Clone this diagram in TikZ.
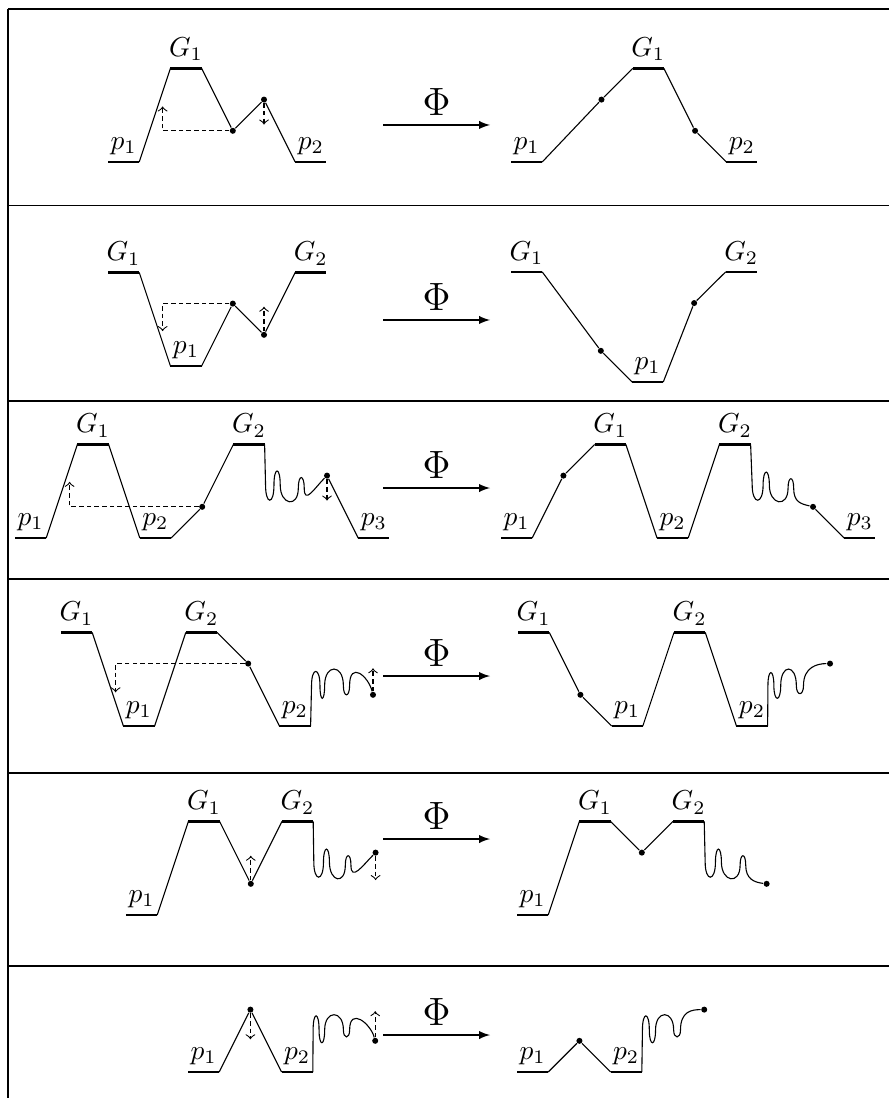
\documentclass[tikz,border=0pt]{standalone}

\begin{document}
\begin{tikzpicture}[x=0.4cm, y=0.4cm,
    plateau/.style={line width=1pt},
    dot/.style={circle, fill, inner sep=0pt, minimum size=2.2pt},
    jump/.style={dash pattern=on 1.7pt off 1.1pt, ->},
    lab/.style={above, inner sep=2.5pt},
    phi/.style={-latex}]

    \useasboundingbox (0,0) rectangle (28.462,-35.192);

    % -------------------------------
    % table rules
    % -------------------------------
    \foreach \y in {0.288,6.587,12.853,18.558,24.776,30.962} {
        \draw (0.256,-\y) -- (28.6,-\y);
    }
    \draw (0.256,-0.288) -- (0.256,-35.4);

    % arrows Phi
    \foreach \y [count=\i] in {4.006,10.256,15.641,21.667,26.891,33.173} {
        \coordinate (s\i) at (12.276,-\y);
        \coordinate (t\i) at (15.705,-\y);
        \draw[phi] (s\i) -- node[above, font=\Large] (phi\i) {$\Phi$} (t\i);
    }


    % -------------------------------
    % row 1
    % -------------------------------
    \begin{scope}[shift={(3.462,-5.192)}]
        \node[dot] (a1) at (4,1) {};
        \node[dot] (b1) at (5,2) {};
        \draw (1,0) -- (2,3) (3,3) -- (a1) -- (b1) -- (6,0);
        \draw[plateau] (0,0) -- (1,0) (2,3) -- (3,3) (6,0) -- (7,0);
        \draw[jump] (a1) -- (1.75,1) -- (1.75,1.78);
        \draw[jump] (b1) -- (5,1.2);
        \node[lab] (l1p1) at (0.5,0) {$p_1$};
        \node[lab] (l1g1) at (2.5,3) {$G_1$};
        \node[lab] (l1p2) at (6.5,0) {$p_2$};
    \end{scope}

    \begin{scope}[shift={(16.378,-5.192)}]
        \node[dot] (c1) at (2.9,2) {};
        \node[dot] (d1) at (5.9,1) {};
        \draw (1,0) -- (c1) -- (3.9,3) (4.9,3) -- (d1) -- (6.9,0);
        \draw[plateau] (0,0) -- (1,0) (3.9,3) -- (4.9,3) (6.9,0) -- (7.9,0);
        \node[lab] (r1p1) at (0.5,0) {$p_1$};
        \node[lab] (r1g1) at (4.4,3) {$G_1$};
        \node[lab] (r1p2) at (7.4,0) {$p_2$};
    \end{scope}


    % -------------------------------
    % row 2
    % -------------------------------
    \begin{scope}[shift={(3.462,-11.731)}]
        \node[dot] (a2) at (4,2) {};
        \node[dot] (b2) at (5,1) {};
        \draw (1,3) -- (2,0) (3,0) -- (a2) -- (b2) -- (6,3);
        \draw[plateau] (0,3) -- (1,3) (2,0) -- (3,0) (6,3) -- (7,3);
        \draw[jump] (a2) -- (1.75,2) -- (1.75,1.12);
        \draw[jump] (b2) -- (5,1.9);
        \node[lab] (l2g1) at (0.5,3) {$G_1$};
        \node[lab] (l2p1) at (2.5,0) {$p_1$};
        \node[lab] (l2g2) at (6.5,3) {$G_2$};
    \end{scope}

    \begin{scope}[shift={(16.378,-12.244)}]
        \node[dot] (c2) at (2.88,1) {};
        \node[dot] (d2) at (5.87,2.53) {};
        \draw (1,3.53) -- (c2) -- (3.88,0) (4.88,0) -- (d2) -- (6.88,3.53);
        \draw[plateau] (0,3.53) -- (1,3.53) (3.88,0) -- (4.88,0) (6.88,3.53) -- (7.88,3.53);
        \node[lab] (r2g1) at (0.5,3.53) {$G_1$};
        \node[lab] (r2p1) at (4.38,0) {$p_1$};
        \node[lab] (r2g2) at (7.38,3.53) {$G_2$};
    \end{scope}


    % -------------------------------
    % row 3
    % -------------------------------
    \begin{scope}[shift={(0.481,-17.244)}]
        \node[dot] (a3) at (6,1) {};
        \node[dot] (b3) at (10,2) {};
        \draw (1,0) -- (2,3) (3,3) -- (4,0) (5,0) -- (a3) -- (7,3) (b3) -- (11,0);
        \draw (8,3) -- (8.03,1.7)
            .. controls +(0,-0.65) and +(0,-0.65) .. (8.3,1.7)
            .. controls +(0,0.6) and +(0,0.6) .. (8.5,1.7)
            .. controls +(0,-0.65) and +(0,-0.65) .. (9.08,1.6)
            .. controls +(0,0.45) and +(0,0.45) .. (9.27,1.6)
            .. controls +(0,-0.55) and +(-0.4,-0.4) .. (b3);
        \draw[plateau] (0,0) -- (1,0) (2,3) -- (3,3) (4,0) -- (5,0) (7,3) -- (8,3) (11,0) -- (12,0);
        \draw[jump] (a3) -- (1.75,1) -- (1.75,1.8);
        \draw[jump] (b3) -- (10,1.2);
        \node[lab] (l3p1) at (0.5,0) {$p_1$};
        \node[lab] (l3g1) at (2.5,3) {$G_1$};
        \node[lab] (l3p2) at (4.5,0) {$p_2$};
        \node[lab] (l3g2) at (7.5,3) {$G_2$};
        \node[lab] (l3p3) at (11.5,0) {$p_3$};
    \end{scope}

    \begin{scope}[shift={(16.058,-17.244)}]
        \node[dot] (c3) at (2,2) {};
        \node[dot] (d3) at (10,1) {};
        \draw (1,0) -- (c3) -- (3,3) (4,3) -- (5,0) (6,0) -- (7,3) (d3) -- (11,0);
        \draw (8,3) -- (8.05,1.7)
            .. controls +(0,-0.65) and +(0,-0.65) .. (8.4,1.7)
            .. controls +(0,0.55) and +(0,0.55) .. (8.6,1.7)
            .. controls +(0,-0.65) and +(0,-0.65) .. (9.2,1.6)
            .. controls +(0,0.4) and +(0,0.4) .. (9.38,1.6)
            .. controls +(0,-0.45) and +(-0.4,0.1) .. (d3);
        \draw[plateau] (0,0) -- (1,0) (3,3) -- (4,3) (5,0) -- (6,0) (7,3) -- (8,3) (11,0) -- (12,0);
        \node[lab] (r3p1) at (0.5,0) {$p_1$};
        \node[lab] (r3g1) at (3.5,3) {$G_1$};
        \node[lab] (r3p2) at (5.5,0) {$p_2$};
        \node[lab] (r3g2) at (7.5,3) {$G_2$};
        \node[lab] (r3p3) at (11.5,0) {$p_3$};
    \end{scope}


    % -------------------------------
    % row 4
    % -------------------------------
    \begin{scope}[shift={(1.955,-23.269)}]
        \node[dot] (a4) at (6,2) {};
        \node[dot] (b4) at (10,1) {};
        \draw (1,3) -- (2,0) (3,0) -- (4,3) (5,3) -- (a4) -- (7,0);
        \draw (8,0) -- (8.03,1.3)
            .. controls +(0,0.6) and +(0,0.6) .. (8.3,1.3)
            .. controls +(0,-0.55) and +(0,-0.55) .. (8.45,1.3)
            .. controls +(0,0.7) and +(0,0.7) .. (9.05,1.3)
            .. controls +(0,-0.4) and +(0,-0.4) .. (9.25,1.3)
            .. controls +(0,0.8) and +(-0.15,0.6) .. (b4);
        \draw[plateau] (0,3) -- (1,3) (2,0) -- (3,0) (4,3) -- (5,3) (7,0) -- (8,0);
        \draw[jump] (a4) -- (1.75,2) -- (1.75,1.08);
        \draw[jump] (b4) -- (10,1.85);
        \node[lab] (l4g1) at (0.5,3) {$G_1$};
        \node[lab] (l4p1) at (2.5,0) {$p_1$};
        \node[lab] (l4g2) at (4.5,3) {$G_2$};
        \node[lab] (l4p2) at (7.5,0) {$p_2$};
    \end{scope}

    \begin{scope}[shift={(16.603,-23.269)}]
        \node[dot] (c4) at (2,1) {};
        \node[dot] (d4) at (10,2) {};
        \draw (1,3) -- (c4) -- (3,0) (4,0) -- (5,3) (6,3) -- (7,0);
        \draw (8,0) -- (8.01,1.3)
            .. controls +(0,0.55) and +(0,0.55) .. (8.2,1.3)
            .. controls +(0,-0.55) and +(0,-0.55) .. (8.42,1.3)
            .. controls +(0,0.7) and +(0,0.7) .. (8.92,1.3)
            .. controls +(0,-0.35) and +(0,-0.35) .. (9.15,1.3)
            .. controls +(0,0.6) and +(-0.4,0) .. (d4);
        \draw[plateau] (0,3) -- (1,3) (3,0) -- (4,0) (5,3) -- (6,3) (7,0) -- (8,0);
        \node[lab] (r4g1) at (0.5,3) {$G_1$};
        \node[lab] (r4p1) at (3.5,0) {$p_1$};
        \node[lab] (r4g2) at (5.5,3) {$G_2$};
        \node[lab] (r4p2) at (7.5,0) {$p_2$};
    \end{scope}


    % -------------------------------
    % row 5
    % -------------------------------
    \begin{scope}[shift={(4.038,-29.327)}]
        \node[dot] (a5) at (4,1) {};
        \node[dot] (b5) at (8,2) {};
        \draw (1,0) -- (2,3) (3,3) -- (a5) -- (5,3);
        \draw (6,3) -- (6.02,1.7)
            .. controls +(0,-0.65) and +(0,-0.65) .. (6.33,1.7)
            .. controls +(0,0.55) and +(0,0.55) .. (6.52,1.7)
            .. controls +(0,-0.65) and +(0,-0.65) .. (7.03,1.6)
            .. controls +(0,0.4) and +(0,0.4) .. (7.21,1.6)
            .. controls +(0,-0.55) and +(-0.4,-0.4) .. (b5);
        \draw[plateau] (0,0) -- (1,0) (2,3) -- (3,3) (5,3) -- (6,3);
        \draw[jump] (a5) -- (4,1.9);
        \draw[jump] (b5) -- (8,1.12);
        \node[lab] (l5p1) at (0.5,0) {$p_1$};
        \node[lab] (l5g1) at (2.5,3) {$G_1$};
        \node[lab] (l5g2) at (5.5,3) {$G_2$};
    \end{scope}

    \begin{scope}[shift={(16.571,-29.327)}]
        \node[dot] (c5) at (4,2) {};
        \node[dot] (d5) at (8,1) {};
        \draw (1,0) -- (2,3) (3,3) -- (c5) -- (5,3);
        \draw (6,3) -- (6.03,1.7)
            .. controls +(0,-0.65) and +(0,-0.65) .. (6.36,1.7)
            .. controls +(0,0.55) and +(0,0.55) .. (6.55,1.7)
            .. controls +(0,-0.65) and +(0,-0.65) .. (7.15,1.6)
            .. controls +(0,0.4) and +(0,0.4) .. (7.33,1.6)
            .. controls +(0,-0.45) and +(-0.4,0.05) .. (d5);
        \draw[plateau] (0,0) -- (1,0) (2,3) -- (3,3) (5,3) -- (6,3);
        \node[lab] (r5p1) at (0.5,0) {$p_1$};
        \node[lab] (r5g1) at (2.5,3) {$G_1$};
        \node[lab] (r5g2) at (5.5,3) {$G_2$};
    \end{scope}


    % -------------------------------
    % row 6
    % -------------------------------
    \begin{scope}[shift={(6.026,-34.359)}]
        \node[dot] (a6) at (2,2) {};
        \node[dot] (b6) at (6,1) {};
        \draw (1,0) -- (a6) -- (3,0);
        \draw (4,0) -- (4.01,1.35)
            .. controls +(0,0.6) and +(0,0.6) .. (4.2,1.35)
            .. controls +(0,-0.55) and +(0,-0.55) .. (4.38,1.35)
            .. controls +(0,0.65) and +(0,0.65) .. (4.98,1.35)
            .. controls +(0,-0.3) and +(0,-0.3) .. (5.18,1.35)
            .. controls +(0,0.75) and +(-0.15,0.55) .. (b6);
        \draw[plateau] (0,0) -- (1,0) (3,0) -- (4,0);
        \draw[jump] (a6) -- (2,1.05);
        \draw[jump] (b6) -- (6,1.95);
        \node[lab] (l6p1) at (0.5,0) {$p_1$};
        \node[lab] (l6p2) at (3.5,0) {$p_2$};
    \end{scope}

    \begin{scope}[shift={(16.571,-34.359)}]
        \node[dot] (c6) at (2,1) {};
        \node[dot] (d6) at (6,2) {};
        \draw (1,0) -- (c6) -- (3,0);
        \draw (4,0) -- (4.02,1.35)
            .. controls +(0,0.6) and +(0,0.6) .. (4.24,1.35)
            .. controls +(0,-0.55) and +(0,-0.55) .. (4.44,1.35)
            .. controls +(0,0.65) and +(0,0.65) .. (5.02,1.35)
            .. controls +(0,-0.3) and +(0,-0.3) .. (5.24,1.35)
            .. controls +(0,0.6) and +(-0.4,0) .. (d6);
        \draw[plateau] (0,0) -- (1,0) (3,0) -- (4,0);
        \node[lab] (r6p1) at (0.5,0) {$p_1$};
        \node[lab] (r6p2) at (3.5,0) {$p_2$};
    \end{scope}

\end{tikzpicture}
\end{document}
